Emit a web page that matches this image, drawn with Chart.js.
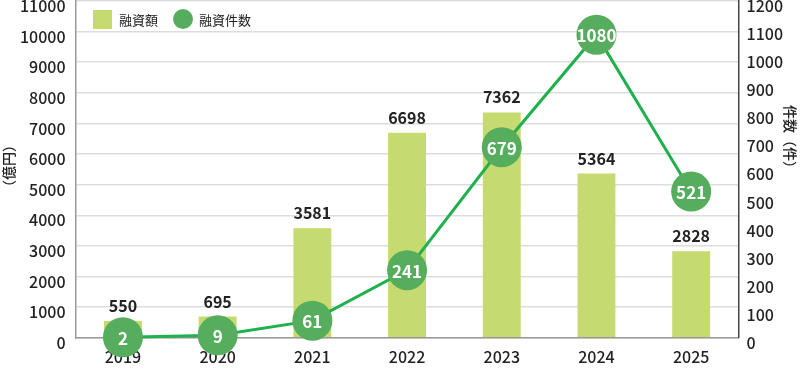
<!DOCTYPE html>
<html>
<head>
<meta charset="utf-8">
<script src="https://cdn.jsdelivr.net/npm/chart.js@4"></script>
<style>
  html, body { margin: 0; padding: 0; background: #fff; }
  #wrap { position: relative; width: 800px; height: 371px; }
  #legend { position: absolute; left: 93px; top: 9px; display: flex; align-items: center;
            font-family: "Noto Sans CJK JP", sans-serif; font-size: 13px; color: #222; }
  #legend span.box { display: inline-block; width: 19px; height: 19px; background: #c5da6f; margin-right: 7px; }
  #legend span.dot { display: inline-block; width: 20px; height: 20px; border-radius: 50%; background: #56ad5e; margin: 0 6px 0 15px; }
</style>
</head>
<body>
<div id="wrap">
  <canvas id="chart" width="800" height="371"></canvas>
  <div id="legend"><span class="box"></span>融資額<span class="dot"></span>融資件数</div>
</div>
<script>
// Chart data
const years = ['2019', '2020', '2021', '2022', '2023', '2024', '2025'];
const loanAmount = [550, 695, 3581, 6698, 7362, 5364, 2828];   // 億円
const loanCount = [2, 9, 61, 241, 679, 1080, 521];              // 件
const leftTicks = [0, 1000, 2000, 3000, 4000, 5000, 6000, 7000, 8000, 9000, 10000, 11000];
const rightTicks = [0, 100, 200, 300, 400, 500, 600, 700, 800, 900, 1000, 1100, 1200];

const FONT = '"Noto Sans CJK JP", sans-serif';

// Draws value labels over bars and inside points, plus the axis titles
const labelPlugin = {
    id: 'labels',
    afterDatasetsDraw(chart) {
        const ctx = chart.ctx;
        ctx.save();
        ctx.textAlign = 'center';
        ctx.textBaseline = 'middle';

        chart.getDatasetMeta(1).data.forEach((bar, i) => {
            ctx.fillStyle = '#222';
            ctx.font = 'bold 16px ' + FONT;
            ctx.fillText(loanAmount[i], bar.x, bar.y - 15);
        });
        chart.getDatasetMeta(0).data.forEach((pt, i) => {
            ctx.fillStyle = '#fff';
            ctx.font = 'bold 17px ' + FONT;
            ctx.fillText(loanCount[i], pt.x, pt.y + 1);
        });

        ctx.fillStyle = '#222';
        ctx.font = '500 14px ' + FONT;
        // left title
        ctx.save();
        ctx.translate(9, 166);
        ctx.rotate(-Math.PI / 2);
        ctx.fillText('（億円）', 0, 0);
        ctx.restore();
        // right title
        ctx.save();
        ctx.translate(790, 140);
        ctx.rotate(Math.PI / 2);
        ctx.fillText('件数（件）', 0, 0);
        ctx.restore();
        ctx.restore();
    }
};

const tickFont = { family: FONT, size: 16, weight: '500' };
// keep the y scales from reserving room above/below the plot
const noVPad = scale => { scale.paddingTop = 0; scale.paddingBottom = 0; };

new Chart(document.getElementById('chart').getContext('2d'), {
    data: {
        labels: years,
        datasets: [
            {
                type: 'line',
                label: '融資件数',
                data: loanCount,
                yAxisID: 'y1',
                borderColor: '#1fb14e',
                borderWidth: 3,
                backgroundColor: '#56ad5e',
                pointBackgroundColor: '#56ad5e',
                pointBorderWidth: 0,
                pointRadius: 20,
                pointHoverRadius: 20,
                tension: 0,
                clip: false,
                order: 1
            },
            {
                type: 'bar',
                label: '融資額',
                data: loanAmount,
                yAxisID: 'y',
                backgroundColor: '#c5da6f',
                barPercentage: 0.4,
                categoryPercentage: 1,
                order: 2
            }
        ]
    },
    options: {
        responsive: false,
        animation: false,
        layout: { autoPadding: false, padding: { left: 10, right: 9, top: 1, bottom: -6 } },
        plugins: {
            legend: { display: false },
            tooltip: { enabled: false }
        },
        scales: {
            x: {
                grid: { display: true, drawOnChartArea: false, offset: true, tickLength: 0, color: '#999' },
                border: { color: '#999', width: 1.5 },
                ticks: { color: '#222', font: tickFont, padding: 10 }
            },
            y: {
                position: 'left',
                min: 0,
                max: 11000,
                afterBuildTicks: axis => { axis.ticks = leftTicks.map(v => ({ value: v })); },
                afterFit: noVPad,
                grid: { color: '#ddd', lineWidth: 1.5, tickLength: 0 },
                border: { color: '#999', width: 1.5 },
                ticks: { color: '#222', font: tickFont, padding: 10, labelOffset: 5, callback: v => String(v) }
            },
            y1: {
                position: 'right',
                min: 0,
                max: 1200,
                afterBuildTicks: axis => { axis.ticks = rightTicks.map(v => ({ value: v })); },
                afterFit: noVPad,
                grid: { drawOnChartArea: false, tickLength: 0 },
                border: { color: '#444', width: 1.5 },
                ticks: { color: '#222', font: tickFont, padding: 8, labelOffset: 5, callback: v => String(v) }
            }
        }
    },
    plugins: [labelPlugin]
});
</script>
</body>
</html>
